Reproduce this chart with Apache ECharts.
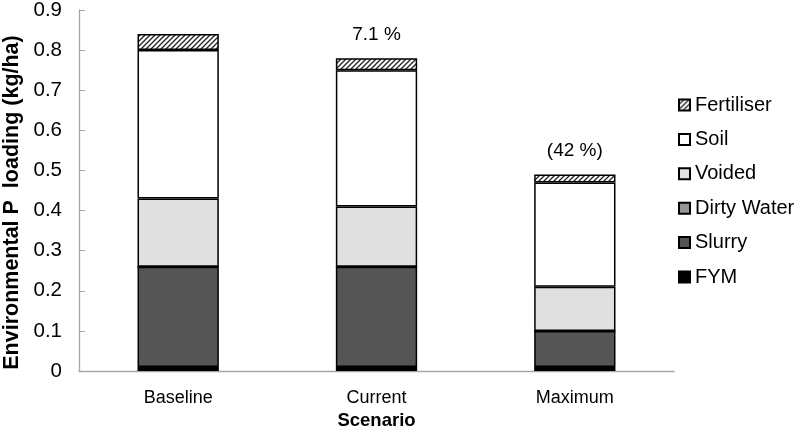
<!doctype html>
<html lang="en">
  <head>
    <meta charset="UTF-8" />
    <title>Environmental P loading by scenario</title>
    <script src="https://cdn.jsdelivr.net/npm/echarts@6/dist/echarts.min.js"></script>
    <style>
      html, body { margin: 0; padding: 0; background: #fff; }
      #chart { width: 800px; height: 436px; }
    </style>
  </head>
  <body>
    <div id="chart"></div>
    <script>
      // Data
      const scenarios = ['Baseline', 'Current', 'Maximum'];
      const fym = [0.01, 0.01, 0.01];
      const slurry = [0.25, 0.25, 0.09];
      const dirtyWater = [0, 0, 0];
      const voided = [0.17, 0.15, 0.11];
      const soil = [0.37, 0.34, 0.26];
      const fertiliser = [0.04, 0.03, 0.02];
      const reductionLabels = ['', '7.1 %', '(42 %)'];
      const legendOrder = ['Fertiliser', 'Soil', 'Voided', 'Dirty Water', 'Slurry', 'FYM'];

      // diagonal hatch for fertiliser
      function hatch() {
        const c = document.createElement('canvas');
        c.width = 5;
        c.height = 5;
        const ctx = c.getContext('2d');
        ctx.fillStyle = '#fff';
        ctx.fillRect(0, 0, 5, 5);
        ctx.strokeStyle = '#222';
        ctx.lineWidth = 1.3;
        ctx.beginPath();
        ctx.moveTo(-1, 6); ctx.lineTo(6, -1);
        ctx.moveTo(-1, 1); ctx.lineTo(1, -1);
        ctx.moveTo(4, 6); ctx.lineTo(6, 4);
        ctx.stroke();
        return c;
      }

      const font = 'Liberation Sans, Arial, sans-serif';

      function seg(name, data, color, extra) {
        return Object.assign({
          name: name,
          type: 'bar',
          stack: 'total',
          data: data,
          barWidth: '41%',
          itemStyle: { color: color, borderColor: '#000', borderWidth: 1.5 },
          emphasis: { disabled: true },
          animation: false
        }, extra || {});
      }

      const chart = echarts.init(document.getElementById('chart'));
      chart.setOption({
        textStyle: { fontFamily: font },
        grid: { left: 79, right: 126, top: 10, bottom: 65, containLabel: false, outerBoundsMode: 'none' },
        legend: {
          orient: 'vertical',
          left: 678,
          top: 95,
          padding: 0,
          data: legendOrder,
          itemWidth: 11,
          itemHeight: 11,
          itemGap: 14.4,
          icon: 'rect',
          textStyle: { fontSize: 20, lineHeight: 20, color: '#000', fontFamily: font }
        },
        xAxis: {
          type: 'category',
          data: scenarios,
          name: 'Scenario',
          nameLocation: 'middle',
          nameGap: 32,
          nameTextStyle: { fontSize: 18.5, fontWeight: 'bold', color: '#000' },
          axisLine: { lineStyle: { color: '#a6a6a6', width: 1.3 } },
          axisTick: { inside: true, length: 6, lineStyle: { color: '#a6a6a6' } },
          axisLabel: { fontSize: 18, color: '#000', margin: 18 }
        },
        yAxis: {
          type: 'value',
          min: 0,
          max: 0.9,
          interval: 0.1,
          name: 'Environmental P  loading (kg/ha)',
          nameLocation: 'middle',
          nameGap: 56,
          nameTextStyle: { fontSize: 21.5, fontWeight: 'bold', color: '#000', padding: [0, 24, 0, 0] },
          axisLine: { show: true, lineStyle: { color: '#a6a6a6', width: 1.3 } },
          axisTick: { show: true, inside: true, length: 6, lineStyle: { color: '#a6a6a6' } },
          splitLine: { show: false },
          axisLabel: {
            fontSize: 20.5,
            color: '#000',
            margin: 17,
            formatter: v => (v === 0 ? '0' : v.toFixed(1))
          }
        },
        series: [
          seg('FYM', fym, '#000000'),
          seg('Slurry', slurry, '#555555'),
          seg('Dirty Water', dirtyWater, '#969696'),
          seg('Voided', voided, '#e0e0e0'),
          seg('Soil', soil, '#ffffff'),
          seg('Fertiliser', fertiliser, { image: hatch(), repeat: 'repeat' }, {
            label: {
              show: true,
              position: 'top',
              distance: 14,
              fontSize: 19,
              color: '#000',
              fontFamily: font,
              formatter: p => reductionLabels[p.dataIndex]
            }
          })
        ]
      });
    </script>
  </body>
</html>
